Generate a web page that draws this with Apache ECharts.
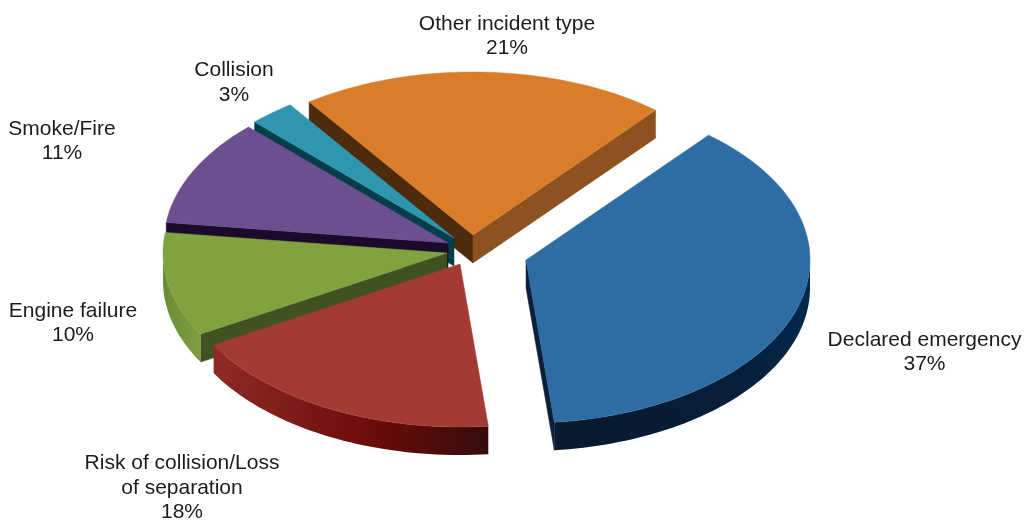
<!DOCTYPE html>
<html>
<head>
<meta charset="utf-8">
<style>html,body{margin:0;padding:0;background:#fff}#c{width:1025px;height:521px}</style>
<script src="https://cdn.jsdelivr.net/npm/echarts@6/dist/echarts.min.js"></script>
</head>
<body>
<div id="c"></div>
<script>
// Data, clockwise from the first slice (labels show whole percents)
const categories = ['Declared emergency', 'Risk of collision/Loss\nof separation', 'Engine failure', 'Smoke/Fire', 'Collision', 'Other incident type'];
const shares = [37.3, 18.3, 10.3, 10.6, 2.6, 20.9];

// Styling
const topColors = ['#2e6ca4', '#a43a34', '#80a340', '#6b4f8e', '#2f96b0', '#d97d2b'];
const startWallColors = ['#0a1f3a', '#5a1512', '#40521f', '#1b0a2a', '#053e4a', '#4e2b0d'];
const endWallColors = ['#0a1f3a', '#5a1512', '#40521f', '#1b0a2a', '#053e4a', '#8c5220'];
const arcWallStops = [
  [[0, '#03284e'], [0.3, '#071d38'], [1, '#0a1a2e']],
  [[0, '#8e2a26'], [0.6, '#690b08'], [1, '#340d0b']],
  [[0, '#6a8c35'], [1, '#7e9f3f']],
  [[0, '#1b0a2a'], [1, '#1b0a2a']],
  [[0, '#053e4a'], [1, '#053e4a']],
  [[0, '#8c5220'], [1, '#8c5220']]
];

// Layout
const sliceOffsets = [[526, 260], [460, 264], [447, 253], [448, 243], [454, 238], [473, 235]];
const labelCenters = [[924.5, 352], [182, 488], [73, 323], [62, 141], [234, 82.5], [507, 36]];
const drawOrder = [5, 4, 3, 2, 1, 0];
const RX = 284, RY = 163, DEPTH = 28, START_DEG = 50;

const total = shares.reduce((a, b) => a + b, 0);
const toRad = d => d * Math.PI / 180;

function sliceAngles(idx) {
  let acc = 0;
  for (let i = 0; i < idx; i++) acc += shares[i];
  return [START_DEG - acc / total * 360, START_DEG - (acc + shares[idx]) / total * 360];
}
function rim(c, deg) {
  return [c[0] + RX * Math.cos(toRad(deg)), c[1] - RY * Math.sin(toRad(deg))];
}
function arcPoints(c, from, to) {
  const n = Math.max(2, Math.ceil(Math.abs(from - to) / 1.5));
  const pts = [];
  for (let i = 0; i <= n; i++) pts.push(rim(c, from + (to - from) * i / n));
  return pts;
}
const down = p => [p[0], p[1] + DEPTH];

function radialWall(c, edge, mid, color) {
  const e = [edge[0] - c[0], edge[1] - c[1]];
  let n = [-e[1], e[0]];
  if (n[0] * (mid[0] - c[0]) + n[1] * (mid[1] - c[1]) > 0) n = [-n[0], -n[1]];
  if (n[1] <= 0) return null;
  return {
    type: 'polygon',
    shape: { points: [c, edge, down(edge), down(c)] },
    style: { fill: color, stroke: color, lineWidth: 0.5 }
  };
}

function arcWalls(c, a0, a1, idx) {
  // the rim faces the viewer only in the lower half of the ellipse
  const out = [];
  const ranges = [[Math.min(a0, 0), Math.max(a1, -180)], [Math.min(a0, -360), Math.max(a1, -540)]];
  ranges.forEach(r => {
    if (r[0] <= r[1]) return;
    const pts = arcPoints(c, r[0], r[1]);
    out.push({
      type: 'polygon',
      shape: { points: pts.concat(pts.map(down).reverse()) },
      style: {
        fill: new echarts.graphic.LinearGradient(
          a1 < -90 ? 0 : 1, 0, a1 < -90 ? 1 : 0, 0,
          arcWallStops[idx].map(s => ({ offset: s[0], color: s[1] }))
        )
      }
    });
  });
  return out;
}

function renderSlice(params, api) {
  const idx = api.value(0);
  const value = api.value(1);
  const c = sliceOffsets[idx];
  const [a0, a1] = sliceAngles(idx);
  const mid = rim(c, (a0 + a1) / 2);
  const children = [];
  const w0 = radialWall(c, rim(c, a0), mid, startWallColors[idx]);
  const w1 = radialWall(c, rim(c, a1), mid, endWallColors[idx]);
  if (w0) children.push(w0);
  if (w1) children.push(w1);
  arcWalls(c, a0, a1, idx).forEach(w => children.push(w));
  children.push({
    type: 'polygon',
    shape: { points: [c].concat(arcPoints(c, a0, a1)) },
    style: { fill: topColors[idx], stroke: topColors[idx], lineWidth: 0.5 }
  });
  children.push({
    type: 'text',
    z2: 100,
    style: {
      x: labelCenters[idx][0],
      y: labelCenters[idx][1],
      text: categories[idx] + '\n' + Math.round(value) + '%',
      fill: '#1c1c1c',
      font: '21px "Liberation Sans", Arial, sans-serif',
      lineHeight: 24.5,
      align: 'center',
      verticalAlign: 'middle'
    }
  });
  return { type: 'group', children };
}

const chart = echarts.init(document.getElementById('c'), null, { renderer: 'canvas' });
chart.setOption({
  animation: false,
  backgroundColor: '#ffffff',
  series: [{
    type: 'custom',
    coordinateSystem: 'none',
    renderItem: renderSlice,
    silent: true,
    encode: { value: 1 },
    data: drawOrder.map(i => [i, shares[i]])
  }]
});
</script>
</body>
</html>
